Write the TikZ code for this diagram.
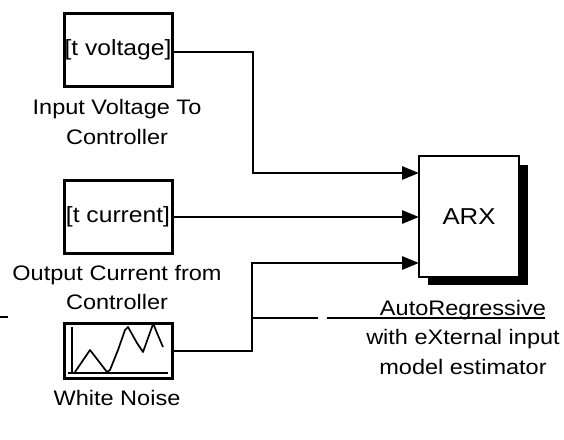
\documentclass[tikz,border=0pt]{standalone}
\usepackage{fontspec}
\setmainfont{Liberation Sans}[FakeStretch=1.12]
\usetikzlibrary{arrows.meta}
\begin{document}
\begin{tikzpicture}[x=1pt,y=-1pt,
  blk/.style={draw,line width=3pt,minimum width=108pt,inner sep=0pt,font=\fontsize{22}{22}\selectfont},
  lbl/.style={align=center,inner sep=0pt,font=\fontsize{21}{29.5}\selectfont},
  conn/.style={line width=2.8pt,-{Triangle[length=17pt,width=13pt]}},
  wire/.style={line width=2.8pt}]
\useasboundingbox (0,0) rectangle (564,439);
\fill[white] (0,0) rectangle (564,439);
% source blocks
\node[blk,minimum height=73pt] (volt) at (118,50) {[t voltage]};
\node[blk,minimum height=73pt] (curr) at (118,216.5) {[t current]};
\node[blk,minimum height=55pt] (noise) at (118,350.5) {};
% labels
\node[lbl] (lv) at (117,122) {Input Voltage To\\Controller};
\node[lbl] (lc) at (117,287.5) {Output Current from\\Controller};
\node[lbl] (ln) at (117,398) {White Noise};
% noise plot
\draw[line width=2pt] (72,327) -- (72,373);
\draw[line width=2pt] (68,373) -- (168,373);
\draw[line width=1.7pt,line join=round] (75,372) -- (90,350) -- (107,372) -- (110,370) -- (118,350) -- (125,330) -- (128,327) -- (137,343) -- (143,352) -- (152,327) -- (153,323) -- (157,333) -- (163,347);
% ARX block with shadow
\fill[black] (428,165) rectangle (528,285);
\node[draw,fill=white,line width=2.8pt,minimum width=100pt,minimum height=121pt,inner sep=0pt,font=\fontsize{23}{23}\selectfont] (arx) at (469,216.5) {ARX};
\node[lbl] (la) at (463,337) {AutoRegressive\\with eXternal input\\model estimator};
% connectors
\coordinate (in1) at (419,173);
\coordinate (in2) at (419,217);
\coordinate (in3) at (419,263);
\coordinate (j1) at (253,52);
\coordinate (j3) at (252,351);
\coordinate (jn) at (252,318);
\draw[conn] (volt.east |- j1) -- (j1) |- (in1);
\draw[conn] (curr.east |- in2) -- (in2);
\draw[conn] (noise.east |- j3) -- (j3) |- (in3);
% faint scan line
\draw[line width=1.3pt] (jn) -- (318,318);
\draw[line width=1.3pt] (327,318) -- (545,318);
\draw[line width=1.3pt] (0,317) -- (8,317);
\end{tikzpicture}
\end{document}
